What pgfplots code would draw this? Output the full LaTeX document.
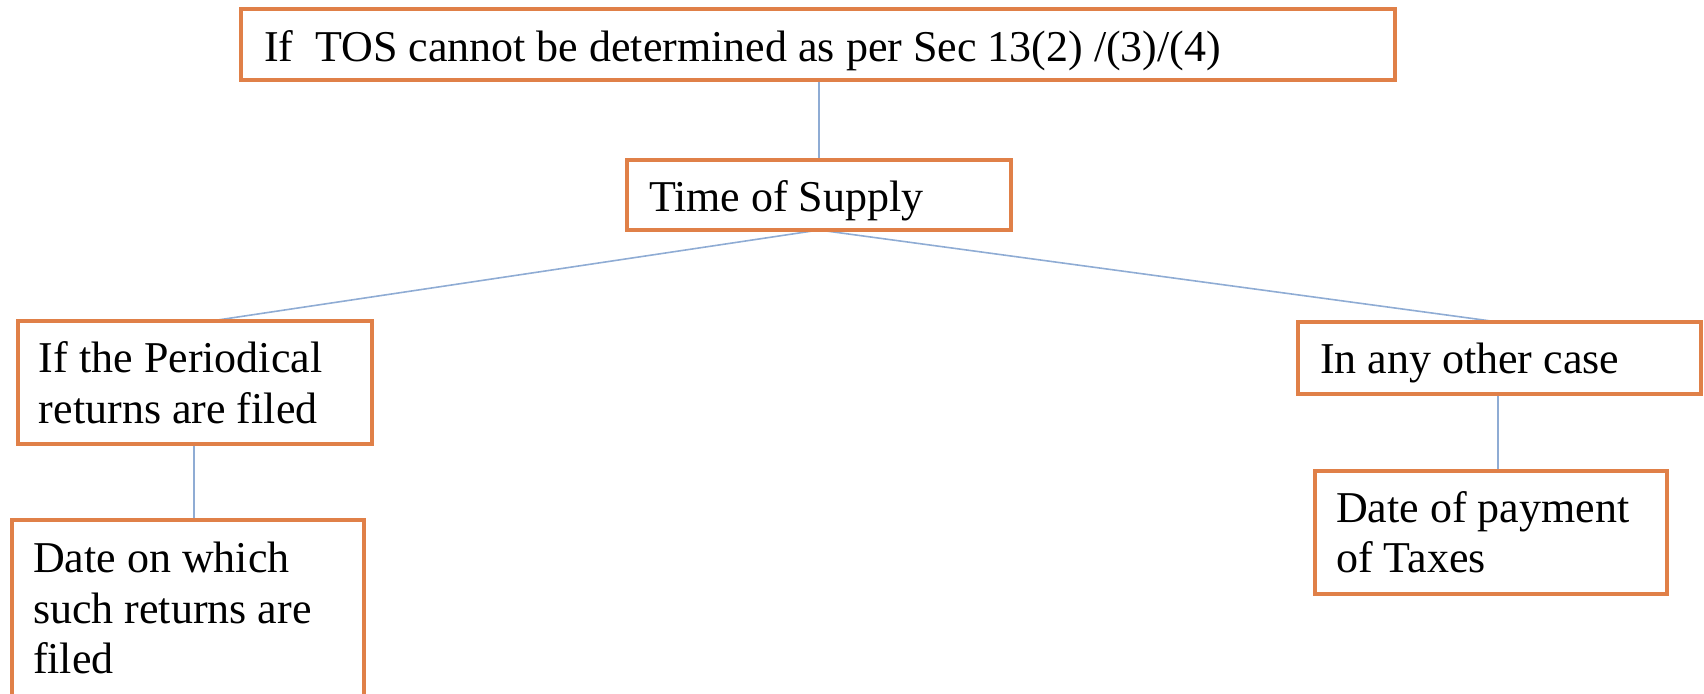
\documentclass[border=0pt]{standalone}
\usepackage{pgfplots}
\pgfplotsset{compat=1.18}
\usepackage{fontspec}
\setmainfont{Liberation Serif}
\definecolor{boxorange}{RGB}{224,128,72}
\definecolor{linkblue}{RGB}{143,172,212}
\tikzset{lbl/.style={inner sep=0pt, outer sep=0pt, anchor=base west, font=\fontsize{22pt}{25pt}\selectfont}}
\begin{document}
\begin{tikzpicture}
\begin{axis}[name=ax,
  hide axis, scale only axis,
  width=852pt, height=346.5pt,
  xmin=0, xmax=1704, ymin=0, ymax=693, y dir=reverse]
% connectors
\addplot[linkblue, line width=0.8pt, mark=none] coordinates {(819,80) (819,160)};
\addplot[linkblue, line width=0.8pt, mark=none] coordinates {(819,230) (211,321)};
\addplot[linkblue, line width=0.8pt, mark=none] coordinates {(819,230) (1491,321)};
\addplot[linkblue, line width=0.8pt, mark=none] coordinates {(194,444) (194,520)};
\addplot[linkblue, line width=0.8pt, mark=none] coordinates {(1498,394) (1498,471)};
% boxes
\addplot[boxorange, line width=1.6pt, mark=none, fill=white] coordinates {(241,9) (1395,9) (1395,80) (241,80)} -- cycle;
\addplot[boxorange, line width=1.6pt, mark=none, fill=white] coordinates {(627,160) (1011,160) (1011,230) (627,230)} -- cycle;
\addplot[boxorange, line width=1.6pt, mark=none, fill=white] coordinates {(18,321) (372,321) (372,444) (18,444)} -- cycle;
\addplot[boxorange, line width=1.6pt, mark=none] coordinates {(12,710) (12,520) (364,520) (364,710)};
\addplot[boxorange, line width=1.6pt, mark=none, fill=white] coordinates {(1298,322) (1701,322) (1701,394) (1298,394)} -- cycle;
\addplot[boxorange, line width=1.6pt, mark=none, fill=white] coordinates {(1315,471) (1667,471) (1667,594) (1315,594)} -- cycle;
% texts
\node[lbl] at (axis cs:264,61) {If\ \ TOS cannot be determined as per Sec 13(2) /(3)/(4)};
\node[lbl] at (axis cs:649,211) {Time of Supply};
\node[lbl] at (axis cs:39,372) {If the Periodical};
\node[lbl] at (axis cs:39,423) {returns are filed};
\node[lbl] at (axis cs:33,572) {Date on which};
\node[lbl] at (axis cs:33,623) {such returns are};
\node[lbl] at (axis cs:33,673) {filed};
\node[lbl] at (axis cs:1320,373) {In any other case};
\node[lbl] at (axis cs:1336,522) {Date of payment};
\node[lbl] at (axis cs:1336,572) {of Taxes};
\end{axis}
\pgfresetboundingbox
\path[use as bounding box] (ax.south west) rectangle (ax.north east);
\end{tikzpicture}
\end{document}
